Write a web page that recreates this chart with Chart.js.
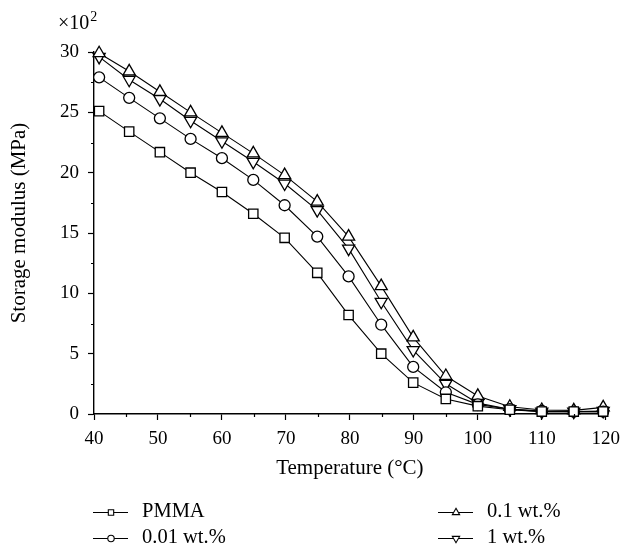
<!DOCTYPE html>
<html>
<head>
<meta charset="utf-8">
<script src="https://cdn.jsdelivr.net/npm/chart.js@4/dist/chart.umd.min.js"></script>
<style>
  html, body { margin: 0; padding: 0; background: #fff; }
  #wrap { width: 628px; height: 546px; position: relative; }
</style>
</head>
<body>
<div id="wrap"><canvas id="c" width="628" height="546"></canvas></div>
<script>
// ---- Data ----
const temperatures = [40.8, 45.5, 50.3, 55.1, 60, 64.9, 69.8, 74.9, 79.8, 84.9, 89.9, 95, 100, 105, 110, 115, 119.6];
const seriesLabels = ['PMMA', '0.01 wt.%', '0.1 wt.%', '1 wt.%'];
const pmma      = [25.1, 23.4, 21.7, 20.0, 18.4, 16.6, 14.6, 11.7, 8.2, 5.0, 2.6, 1.25, 0.65, 0.35, 0.2, 0.2, 0.2];
const wt001     = [27.9, 26.2, 24.5, 22.8, 21.2, 19.4, 17.3, 14.7, 11.4, 7.4, 3.9, 1.8, 0.8, 0.4, 0.25, 0.2, 0.2];
const wt01      = [29.9, 28.4, 26.7, 25.0, 23.3, 21.6, 19.8, 17.6, 14.7, 10.6, 6.35, 3.15, 1.5, 0.6, 0.33, 0.3, 0.55];
const wt1       = [29.6, 27.7, 26.1, 24.3, 22.6, 20.9, 19.1, 16.9, 13.7, 9.3, 5.3, 2.5, 0.9, 0.4, 0.2, 0.2, 0.25];
const xTicks = [40, 50, 60, 70, 80, 90, 100, 110, 120];
const yTicks = [0, 5, 10, 15, 20, 25, 30];
const xMinorTicks = [45, 55, 65, 75, 85, 95, 105, 115];
const yMinorTicks = [2.5, 7.5, 12.5, 17.5, 22.5, 27.5];
const xTitle = 'Temperature (\u00B0C)';
const yTitle = 'Storage modulus (MPa)';
const multiplierText = '\u00D710';
const multiplierExp = '2';

const FONT = "'Liberation Serif', 'Times New Roman', serif";

function pts(vals) { return vals.map((v, i) => ({ x: temperatures[i], y: v })); }

const styles = [
  { pointStyle: 'rect', radius: 6.6, rotation: 0 },
  { pointStyle: 'circle', radius: 5.5, rotation: 0 },
  { pointStyle: 'triangle', radius: 7, rotation: 0 },
  { pointStyle: 'triangle', radius: 7, rotation: 180 }
];
const allSeries = [pmma, wt001, wt01, wt1];

const datasets = allSeries.map((vals, i) => ({
  label: seriesLabels[i],
  data: pts(vals),
  borderColor: '#000',
  borderWidth: 1.1,
  backgroundColor: '#fff',
  pointStyle: styles[i].pointStyle,
  pointRadius: styles[i].radius,
  pointRotation: styles[i].rotation,
  pointBorderColor: '#000',
  pointBackgroundColor: '#fff',
  pointBorderWidth: 1.3,
  tension: 0,
  clip: false
}));

const extras = {
  id: 'extras',
  afterDraw(chart) {
    const ctx = chart.ctx;
    const xs = chart.scales.x, ys = chart.scales.y;
    const area = chart.chartArea;
    ctx.save();
    ctx.strokeStyle = '#000';
    ctx.lineWidth = 1.2;
    // minor ticks
    ctx.beginPath();
    xMinorTicks.forEach(v => {
      const px = Math.round(xs.getPixelForValue(v)) + 0.5;
      ctx.moveTo(px, area.bottom);
      ctx.lineTo(px, area.bottom + 3);
    });
    yMinorTicks.forEach(v => {
      const py = Math.round(ys.getPixelForValue(v)) + 0.5;
      ctx.moveTo(area.left, py);
      ctx.lineTo(area.left - 3, py);
    });
    ctx.stroke();

    // y-axis title (rotated)
    ctx.fillStyle = '#000';
    ctx.save();
    ctx.translate(19, 223);
    ctx.rotate(-Math.PI / 2);
    ctx.font = '21px ' + FONT;
    ctx.textAlign = 'center';
    ctx.textBaseline = 'middle';
    ctx.fillText(yTitle, 0, 0);
    ctx.restore();

    // multiplier label
    ctx.textBaseline = 'alphabetic';
    ctx.textAlign = 'left';
    ctx.font = '20px ' + FONT;
    const mx = 58, my = 29;
    ctx.fillText(multiplierText, mx, my);
    const w = ctx.measureText(multiplierText).width;
    ctx.font = '14px ' + FONT;
    ctx.fillText(multiplierExp, mx + w + 1, my - 8);

    // legend (two columns)
    const colSample = [93, 438];
    const colText = [142, 487];
    const rowY = [512, 538];
    chart.data.datasets.forEach((ds, i) => {
      const col = Math.floor(i / 2), row = i % 2;
      const x0 = colSample[col], y = rowY[row];
      ctx.strokeStyle = '#000';
      ctx.lineWidth = 1.2;
      ctx.beginPath();
      ctx.moveTo(x0, y + 0.5);
      ctx.lineTo(x0 + 35, y + 0.5);
      ctx.stroke();
      const opt = {
        pointStyle: ds.pointStyle,
        radius: ds.pointStyle === 'circle' ? 3.2 : (ds.pointStyle === 'rect' ? 3.8 : 4.2),
        rotation: ds.pointRotation,
        borderWidth: 1.1
      };
      ctx.fillStyle = '#fff';
      ctx.strokeStyle = '#000';
      ctx.lineWidth = 1.1;
      Chart.helpers.drawPoint(ctx, opt, x0 + 18, y + 0.5);
      ctx.fillStyle = '#000';
      ctx.font = '20.5px ' + FONT;
      ctx.textBaseline = 'middle';
      ctx.textAlign = 'left';
      ctx.fillText(ds.label, colText[col], y);
    });
    ctx.restore();
  }
};

new Chart(document.getElementById('c'), {
  type: 'line',
  data: { datasets },
  options: {
    responsive: false,
    animation: false,
    devicePixelRatio: 1,
    layout: { padding: { top: 52, right: 14, bottom: 62, left: 0 } },
    plugins: { legend: { display: false }, tooltip: { enabled: false } },
    scales: {
      x: {
        type: 'linear',
        min: 40, max: 120,
        afterFit(s) { s.height = 70; },
        afterBuildTicks(s) { s.ticks = xTicks.map(v => ({ value: v })); },
        ticks: { color: '#000', font: { family: FONT, size: 19 }, padding: 8, maxRotation: 0 },
        grid: { display: true, drawOnChartArea: false, drawTicks: true, tickLength: 6, tickColor: '#000', tickWidth: 1.2 },
        border: { display: true, color: '#000', width: 1.4 },
        title: { display: true, text: xTitle, color: '#000', font: { family: FONT, size: 21 }, padding: { top: 0, bottom: 3 } }
      },
      y: {
        min: 0, max: 30,
        afterFit(s) { s.width = 94; },
        afterBuildTicks(s) { s.ticks = yTicks.map(v => ({ value: v })); },
        ticks: { color: '#000', font: { family: FONT, size: 19 }, padding: 9 },
        grid: { display: true, drawOnChartArea: false, drawTicks: true, tickLength: 6, tickColor: '#000', tickWidth: 1.2 },
        border: { display: true, color: '#000', width: 1.4 },
        title: { display: false, text: yTitle }
      }
    }
  },
  plugins: [extras]
});
</script>
</body>
</html>
